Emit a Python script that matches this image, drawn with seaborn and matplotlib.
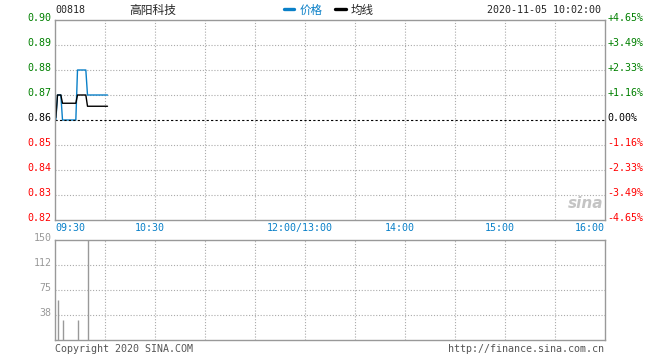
import matplotlib
matplotlib.use("Agg")
import matplotlib.pyplot as plt
import matplotlib.transforms as mtransforms
import seaborn as sns
import pandas as pd

# =====================================================
# DATA
# =====================================================

stock_code = "00818"
stock_name = "高阳科技"
stamp = "2020-11-05 10:02:00"
prev_close = 0.86

# minutes after 09:30
minutes = [0, 1, 2, 3, 4, 5, 6, 7, 8, 9, 10, 11, 12, 13, 14, 15,
           16, 17, 18, 19, 20, 21, 22, 23, 24, 25, 26, 27, 28, 29, 30, 31]

price = [0.86, 0.87, 0.87, 0.87, 0.86, 0.86, 0.86, 0.86, 0.86, 0.86, 0.86,
         0.86, 0.86, 0.88, 0.88, 0.88, 0.88, 0.88, 0.88, 0.87, 0.87, 0.87,
         0.87, 0.87, 0.87, 0.87, 0.87, 0.87, 0.87, 0.87, 0.87, 0.87]

avg_price = [0.861, 0.87, 0.87, 0.87, 0.8667, 0.8667, 0.8667, 0.8667, 0.8667,
             0.8667, 0.8667, 0.8667, 0.8667, 0.87, 0.87, 0.87, 0.87, 0.87,
             0.87, 0.8655, 0.8655, 0.8655, 0.8655, 0.8655, 0.8655, 0.8655,
             0.8655, 0.8655, 0.8655, 0.8655, 0.8655, 0.8655]

vol_minutes = [1, 4, 13, 19]
volume = [60, 30, 30, 150]

price_ticks = [0.82, 0.83, 0.84, 0.85, 0.86, 0.87, 0.88, 0.89, 0.90]
pct_ticks = [-4.65, -3.49, -2.33, -1.16, 0.00, 1.16, 2.33, 3.49, 4.65]

time_ticks = [0, 60, 150, 210, 270, 330]
time_labels = ["09:30", "10:30", "12:00/13:00", "14:00", "15:00", "16:00"]

vol_ticks = [37.5, 75, 112.5, 150]
vol_labels = ["38", "75", "112", "150"]

df = pd.DataFrame({"t": [m + 0.5 for m in minutes],
                   "price": price,
                   "avg": avg_price})

# =====================================================
# STYLE
# =====================================================

sns.set_style("white")
plt.rcParams['font.family'] = ['DejaVu Sans Mono', 'Noto Sans CJK SC']

BLUE = "#0a80c8"
GREEN = "#008000"
RED = "#ff0000"
GRAY = "#999999"
GRID = "#aaaaaa"
cjk = ['Noto Sans CJK SC', 'DejaVu Sans']

W, H = 660, 360
fig = plt.figure(figsize=(6.6, 3.6), dpi=100)


def rect(l, t, r, b):
    return [l / W, 1 - b / H, (r - l) / W, (b - t) / H]


def px_shift(dx, dy):
    return mtransforms.ScaledTranslation(dx / 100, dy / 100, fig.dpi_scale_trans)


ax = fig.add_axes(rect(55, 20, 605, 220))
axv = fig.add_axes(rect(55, 240, 605, 340))

# =====================================================
# PRICE PANEL
# =====================================================

sns.lineplot(data=df, x="t", y="price", ax=ax, color=BLUE,
             linewidth=1.0, label="价格", legend=False)
sns.lineplot(data=df, x="t", y="avg", ax=ax, color="black",
             linewidth=1.0, label="均线", legend=False)

ax.axhline(prev_close, color="black", linestyle=(0, (2, 2)), linewidth=0.8)

ax.set_ylim(0.82, 0.90)
ax.set_yticks(price_ticks)
ax.set_yticks([0.83, 0.84, 0.85, 0.87, 0.88, 0.89], minor=True)
ax.set_yticklabels([f"{v:.2f}" for v in price_ticks])
ax.tick_params(axis="y", pad=2.5, labelsize=7.2)

ax.set_xticks(time_ticks)
ax.set_xticklabels(time_labels)
ax.tick_params(axis="x", pad=2.5, labelsize=7.2, labelcolor=BLUE)
ax.set_xlabel("")
ax.set_ylabel("")

# =====================================================
# VOLUME PANEL
# =====================================================

axv.vlines([m + 0.5 for m in vol_minutes], 0, volume, color=GRAY,
           linewidth=1.0)
axv.set_ylim(0, 150)
axv.set_yticks(vol_ticks)
axv.set_yticks([37.5, 75, 112.5], minor=True)
axv.set_yticklabels(vol_labels)
axv.tick_params(axis="y", pad=2.5, labelsize=7.2, labelcolor=GRAY)
axv.set_xticks([])

# shared frame and dotted grid
for a in (ax, axv):
    for s in a.spines.values():
        s.set_color(GRAY)
        s.set_linewidth(1.0)
    a.set_xlim(0, 330)
    a.set_xticks(range(30, 330, 30), minor=True)
    a.xaxis.remove_overlapping_locs = False
    a.yaxis.remove_overlapping_locs = False
    a.grid(False, which="major")
    a.grid(True, which="minor", color=GRID, linestyle=(0, (1, 1.6)),
           linewidth=0.8)
    a.tick_params(which="both", length=0)

# tick label nudges
for lab, v in zip(ax.get_yticklabels(), price_ticks):
    lab.set_color(GREEN if v > prev_close else (RED if v < prev_close else "black"))
    lab.set_transform(lab.get_transform() + px_shift(0, 3))

for i, lab in enumerate(ax.get_xticklabels()):
    if i == 0:
        lab.set_ha("left")
    elif i == len(time_labels) - 1:
        lab.set_ha("right")
    else:
        lab.set_transform(lab.get_transform() + px_shift(-5, 0))

for lab in axv.get_yticklabels():
    lab.set_transform(lab.get_transform() + px_shift(0, 3))

axr = ax.twinx()
axr.set_ylim(-4.65, 4.65)
axr.set_yticks(pct_ticks)
axr.set_yticklabels([("+" if v > 0 else "") + f"{v:.2f}%" for v in pct_ticks])
axr.tick_params(axis="y", length=0, pad=1.5, labelsize=7.2)
for s in axr.spines.values():
    s.set_visible(False)
axr.grid(False)
for lab, v in zip(axr.get_yticklabels(), pct_ticks):
    lab.set_color(GREEN if v > 0 else (RED if v < 0 else "black"))
    lab.set_transform(lab.get_transform() + px_shift(0, 3))

# =====================================================
# HEADER / FOOTER
# =====================================================

fig.text(55 / W, 1 - 10 / H, stock_code, fontsize=7.2, va="center")
fig.text(153 / W, 1 - 10 / H, stock_name, fontsize=8.5, family=cjk,
         ha="center", va="center")
fig.text(601 / W, 1 - 10 / H, stamp, fontsize=7.2, ha="right", va="center")

leg = fig.legend(handles=ax.get_lines()[:2], loc="center",
                 bbox_to_anchor=(329 / W, 1 - 10 / H), ncol=2,
                 frameon=False, prop={"family": cjk, "size": 8.3},
                 handlelength=0.9, handletextpad=0.45, columnspacing=1.1,
                 borderpad=0, borderaxespad=0)
for line in leg.get_lines():
    line.set_linewidth(2.4)
leg.get_texts()[0].set_color(BLUE)

fig.text(586 / W, 1 - 204 / H, "sina", fontsize=11, style="italic",
         weight="bold", color="#c4c4c4", ha="center", va="center",
         family=['DejaVu Sans'])

fig.text(55 / W, 1 - 349 / H, "Copyright 2020 SINA.COM", fontsize=7.2,
         color="#555555", va="center")
fig.text(604 / W, 1 - 349 / H, "http://finance.sina.com.cn", fontsize=7.2,
         color="#555555", ha="right", va="center")

fig.savefig("out.png", dpi=100)
